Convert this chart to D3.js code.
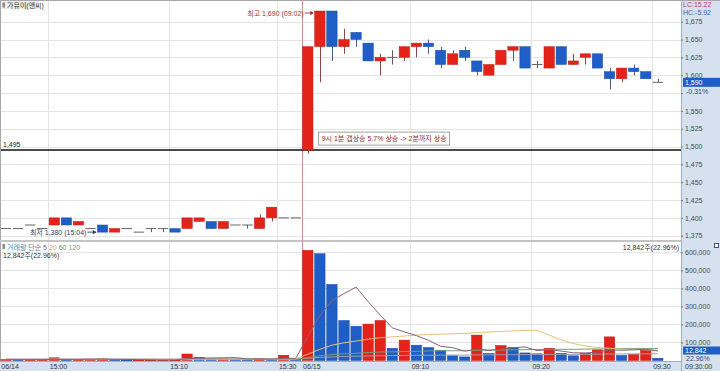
<!DOCTYPE html>
<html>
<head>
<meta charset="utf-8">
<script src="https://cdn.jsdelivr.net/npm/d3@7"></script>
<style>
  html, body { margin: 0; padding: 0; background: #fff; }
  svg text { font-family: "Liberation Sans", "Noto Sans CJK KR", sans-serif; font-size: 7px; }
</style>
</head>
<body>
<svg id="chart" width="720" height="371"></svg>
<script>
// one-minute bars, 06/14 afternoon then 06/15 morning
const times = [
  '14:56', '14:57', '14:58', '14:59', '15:00', '15:01', '15:02', '15:03', '15:04', '15:05',
  '15:06', '15:07', '15:08', '15:09', '15:10', '15:11', '15:12', '15:13', '15:14', '15:15',
  '15:16', '15:17', '15:18', '15:30', '15:40',
  '09:01', '09:02', '09:03', '09:04', '09:05', '09:06', '09:07', '09:08', '09:09', '09:10',
  '09:11', '09:12', '09:13', '09:14', '09:15', '09:16', '09:17', '09:18', '09:19', '09:20',
  '09:21', '09:22', '09:23', '09:24', '09:25', '09:26', '09:27', '09:28', '09:29', '09:30'
];
const dayLabels = ['06/14', '06/15'];
const dayLengths = [25, 30];

const open = [
  1385, 1385, 1390, 1385, 1390, 1400, 1390, 1385, 1390, 1380,
  1385, 1380, 1385, 1385, 1385, 1385, 1395, 1395, 1385, 1390,
  1390, 1385, 1400, 1400, 1400,
  1495, 1640, 1690, 1640, 1660, 1645, 1620, 1625, 1625, 1640,
  1645, 1635, 1615, 1635, 1620, 1600, 1615, 1635, 1640, 1615,
  1610, 1640, 1615, 1625, 1630, 1605, 1595, 1610, 1605, 1590
];
const high = [
  1385, 1385, 1390, 1385, 1400, 1400, 1395, 1385, 1390, 1385,
  1385, 1380, 1385, 1385, 1385, 1400, 1400, 1395, 1395, 1390,
  1390, 1405, 1415, 1400, 1400,
  1640, 1690, 1690, 1665, 1660, 1645, 1630, 1635, 1640, 1645,
  1650, 1640, 1635, 1640, 1620, 1615, 1635, 1640, 1640, 1620,
  1640, 1640, 1630, 1630, 1630, 1610, 1610, 1615, 1605, 1595
];
const low = [
  1385, 1385, 1390, 1385, 1390, 1390, 1390, 1385, 1380, 1380,
  1385, 1380, 1380, 1380, 1380, 1385, 1395, 1385, 1385, 1390,
  1385, 1385, 1395, 1400, 1400,
  1490, 1590, 1620, 1630, 1640, 1620, 1600, 1615, 1620, 1625,
  1630, 1610, 1615, 1620, 1600, 1600, 1615, 1620, 1610, 1610,
  1610, 1615, 1615, 1615, 1610, 1580, 1590, 1600, 1595, 1590
];
const close = [
  1385, 1385, 1390, 1385, 1400, 1390, 1395, 1385, 1380, 1385,
  1385, 1380, 1385, 1385, 1380, 1400, 1400, 1385, 1395, 1390,
  1390, 1400, 1415, 1400, 1400,
  1640, 1690, 1640, 1650, 1650, 1620, 1625, 1625, 1640, 1645,
  1640, 1615, 1630, 1625, 1605, 1615, 1635, 1640, 1610, 1615,
  1640, 1615, 1620, 1630, 1610, 1595, 1610, 1605, 1595, 1590
];
const volume = [
  5000, 4000, 4000, 4000, 15000, 4000, 4000, 8000, 9000, 4000,
  3000, 3000, 3000, 3000, 3000, 36000, 18000, 9000, 9000, 8000,
  4000, 12000, 5000, 29000, 8000,
  611000, 592000, 422000, 222000, 190000, 202000, 222000, 68000, 113000, 85000,
  72000, 57000, 26000, 20000, 141000, 39000, 83000, 72000, 42000, 37000,
  68000, 40000, 26000, 40000, 59000, 131000, 28000, 35000, 55930, 12842
];
// volume moving averages as drawn (단순 5 / 20 / 60 / 120)
const ma5 = [
  5000, 5000, 5000, 5000, 6000, 6000, 6000, 7000, 8000, 6000,
  6000, 5000, 4000, 3000, 3000, 10000, 13000, 14000, 15000, 16000,
  9000, 8000, 8000, 12000, 12000,
  133000, 249000, 332000, 371000, 407000, 326000, 252000, 181000, 159000, 138000,
  112000, 79000, 71000, 52000, 63000, 57000, 62000, 71000, 75000, 55000,
  60000, 52000, 43000, 42000, 47000, 59000, 57000, 59000, 62000, 53000
];
const ma20 = [
  7000, 7000, 7000, 7000, 7000, 7000, 7000, 7000, 7000, 7000,
  7000, 7000, 7000, 7000, 7000, 8000, 8000, 8000, 8000, 8000,
  8000, 8000, 8000, 9000, 9000,
  35000, 62000, 85000, 98000, 108000, 118000, 126000, 131000, 136000, 141000,
  144000, 146000, 148000, 150000, 155000, 158000, 161000, 164000, 167000, 168000,
  141000, 114000, 94000, 80000, 72000, 68000, 63000, 62000, 60000, 58000
];
const ma60 = [
  6000, 6000, 6000, 6000, 6000, 6000, 6000, 6000, 6000, 6000,
  6000, 6000, 6000, 6000, 6000, 6000, 7000, 7000, 7000, 7000,
  7000, 7000, 7000, 7000, 7000,
  16000, 26000, 33000, 37000, 40000, 44000, 47000, 48000, 50000, 51000,
  53000, 54000, 54000, 54000, 57000, 57000, 58000, 59000, 60000, 61000,
  62000, 62000, 62000, 63000, 64000, 66000, 66000, 67000, 67000, 67000
];
const ma120 = [
  8000, 8000, 8000, 8000, 8000, 8000, 8000, 8000, 8000, 8000,
  8000, 8000, 8000, 8000, 8000, 8000, 8000, 8000, 8000, 8000,
  8000, 8000, 8000, 8000, 8000,
  12000, 17000, 20000, 22000, 24000, 25000, 27000, 27000, 28000, 29000,
  29000, 30000, 30000, 30000, 31000, 31000, 32000, 32000, 33000, 33000,
  34000, 34000, 34000, 34000, 35000, 36000, 36000, 36000, 37000, 37000
];

const priceTicks = [1375, 1400, 1425, 1450, 1475, 1500, 1525, 1550, 1575, 1600, 1625, 1650, 1675];
const volumeTicks = [100000, 200000, 300000, 400000, 500000, 600000];
const timeTicks = ['15:00', '15:10', '15:30', '09:10', '09:20', '09:30'];
const refPrice = 1495;
const paneTitle = '가뮤이(앤씨)';
const noteText = '9시 1분 갭상승 5.7% 상승 -> 2분까지 상승';
const maNames = ['단순 5', '20', '60', '120'];

const RED = '#e3231a', BLUE = '#1e5ec6';
const fmt = d3.format(',');

const svg = d3.select('#chart');
const plotRight = 681;

const n = times.length;
const x = d3.scaleBand().domain(d3.range(n)).range([0, n * 12.07]).paddingInner(0.14).paddingOuter(0.07);
const bw = x.bandwidth();
const yP = d3.scaleLinear().domain([1375, 1675]).range([235.7, 21.7]);
const yV = d3.scaleLinear().domain([0, 600000]).range([360.5, 252.3]);
const last = n - 1;

// backgrounds
svg.append('rect').attr('width', 720).attr('height', 371).attr('fill', '#fff');
svg.append('rect').attr('x', plotRight).attr('y', 0).attr('width', 720 - plotRight).attr('height', 371).attr('fill', '#d5e1ee');
svg.append('rect').attr('x', 0).attr('y', 361).attr('width', 720).attr('height', 10).attr('fill', '#d5e1ee');

// day starts and time ticks as bar indices
const dayStarts = dayLengths.map((_, k) => d3.sum(dayLengths.slice(0, k)));
const timeIdx = timeTicks.map(t => times.indexOf(t));

// grid
const grid = svg.append('g').attr('stroke', '#e4e4e4').attr('stroke-width', 1);
grid.selectAll('.hp').data(priceTicks).enter().append('line')
  .attr('x1', 1).attr('x2', plotRight)
  .attr('y1', d => Math.round(yP(d)) + 0.5).attr('y2', d => Math.round(yP(d)) + 0.5);
grid.selectAll('.hv').data(volumeTicks).enter().append('line')
  .attr('x1', 1).attr('x2', plotRight)
  .attr('y1', d => Math.round(yV(d)) + 0.5).attr('y2', d => Math.round(yV(d)) + 0.5);
grid.selectAll('.vt').data(timeIdx).enter().append('line')
  .attr('x1', d => Math.round(x(d)) - 0.5).attr('x2', d => Math.round(x(d)) - 0.5)
  .attr('y1', 1).attr('y2', 361);

// frame and pane separator
svg.append('line').attr('x1', 0.5).attr('x2', 0.5).attr('y1', 0).attr('y2', 361).attr('stroke', '#a8a8a8');
svg.append('line').attr('x1', 0).attr('x2', 720).attr('y1', 0.5).attr('y2', 0.5).attr('stroke', '#a8a8a8');
svg.append('rect').attr('x', 0).attr('y', 240).attr('width', plotRight).attr('height', 2).attr('fill', '#c4c4c4');
svg.append('line').attr('x1', plotRight + 0.5).attr('x2', plotRight + 0.5).attr('y1', 0).attr('y2', 371).attr('stroke', '#9fb0c2');
svg.append('line').attr('x1', 0).attr('x2', plotRight).attr('y1', 361.5).attr('y2', 361.5).attr('stroke', '#9fb0c2');

// day divider
dayStarts.slice(1).forEach(i => {
  svg.append('line')
    .attr('x1', Math.round(x(i)) - 0.5).attr('x2', Math.round(x(i)) - 0.5)
    .attr('y1', 1).attr('y2', 361)
    .attr('stroke', '#c99494');
});

// reference price line
svg.append('line')
  .attr('x1', 1).attr('x2', plotRight)
  .attr('y1', yP(refPrice)).attr('y2', yP(refPrice))
  .attr('stroke', '#111').attr('stroke-width', 1.5);
svg.append('text').attr('x', 3).attr('y', yP(refPrice) - 3).attr('fill', '#222').text(fmt(refPrice));

// candles
const bars = times.map((t, i) => ({ i, t, o: open[i], h: high[i], l: low[i], c: close[i], v: volume[i] }));
const candleColor = d => d.c > d.o ? RED : d.c < d.o ? BLUE : '#666';
const wickColor = d => d.c > d.o ? '#8d4a44' : d.c < d.o ? '#4a5f8e' : '#5c5c5c';

const candles = svg.append('g');
candles.selectAll('.wick').data(bars).enter().append('line')
  .attr('x1', d => Math.round(x(d.i) + bw / 2) + 0.5)
  .attr('x2', d => Math.round(x(d.i) + bw / 2) + 0.5)
  .attr('y1', d => yP(d.h))
  .attr('y2', d => yP(d.l))
  .attr('stroke', wickColor);
candles.selectAll('.body').data(bars).enter().append('rect')
  .attr('x', d => x(d.i))
  .attr('y', d => d.o === d.c ? yP(d.c) - 0.5 : yP(Math.max(d.o, d.c)))
  .attr('width', bw)
  .attr('height', d => d.o === d.c ? 1 : Math.abs(yP(d.o) - yP(d.c)))
  .attr('fill', candleColor)
  .attr('stroke', d => d.o === d.c ? 'none' : d3.color(candleColor(d)).darker(0.5))
  .attr('stroke-width', 0.5);

// high / low markers
const arrowLabel = (i, yy, txt, color) => {
  const xe = x(i);
  svg.append('text').attr('x', xe - 11).attr('y', yy + 2.5)
    .attr('text-anchor', 'end').attr('fill', color).text(txt);
  svg.append('line').attr('x1', xe - 10).attr('x2', xe - 1.5).attr('y1', yy).attr('y2', yy)
    .attr('stroke', color).attr('stroke-width', 0.9);
  svg.append('path').attr('d', `M${xe - 1},${yy} l-3.5,-2.2 l0,4.4 z`).attr('fill', color);
};
const iHigh = d3.maxIndex(high);
const iLow = d3.minIndex(low);
arrowLabel(iHigh, yP(high[iHigh]) + 2, `최고 ${fmt(high[iHigh])} (${times[iHigh]})`, '#a83232');
arrowLabel(iLow, yP(low[iLow]), `최저 ${fmt(low[iLow])} (${times[iLow]})`, '#2c3a6e');

// comment box
const noteX = x(dayStarts[1] + 1) + 4;
const noteY = yP(refPrice) - 18;
const note = svg.append('g');
const noteRect = note.append('rect').attr('x', noteX).attr('y', noteY).attr('height', 13)
  .attr('fill', '#fff').attr('stroke', '#8a8a8a').attr('stroke-width', 0.8);
const noteTxt = note.append('text').attr('x', noteX + 3).attr('y', noteY + 9)
  .attr('fill', '#8f2a2a').text(noteText);
noteRect.attr('width', noteTxt.node().getComputedTextLength() + 6);

// pane title
svg.append('rect').attr('x', 1).attr('y', 1).attr('width', 38).attr('height', 8).attr('fill', '#ececec');
svg.append('rect').attr('x', 2.5).attr('y', 2.5).attr('width', 2.5).attr('height', 5).attr('fill', '#8a8a8a');
svg.append('text').attr('x', 7).attr('y', 7.5).attr('fill', '#333').text(paneTitle);

// volume bars, red when volume rose versus the previous bar
const volColor = d => d.i === 0 || d.v >= volume[d.i - 1] ? RED : BLUE;
svg.append('g').selectAll('rect').data(bars).enter().append('rect')
  .attr('x', d => x(d.i))
  .attr('y', d => yV(d.v))
  .attr('width', bw)
  .attr('height', d => Math.max(0.8, yV(0) - yV(d.v)))
  .attr('fill', volColor)
  .attr('stroke', d => d3.color(volColor(d)).darker(0.6))
  .attr('stroke-width', 0.5);

// volume averages
const maSeries = [
  { values: ma120, color: '#9c9cab' },
  { values: ma60, color: '#74a074' },
  { values: ma20, color: '#e3c27c' },
  { values: ma5, color: '#86607c' }
];
const line = d3.line().x((d, i) => x(i) + bw / 2).y(d => yV(d));
svg.append('g').selectAll('path').data(maSeries).enter().append('path')
  .attr('d', d => line(d.values))
  .attr('fill', 'none')
  .attr('stroke', d => d.color)
  .attr('stroke-width', 1);

// volume legend
const volPct = (volume[last] / volume[last - 1] * 100).toFixed(2);
svg.append('rect').attr('x', 2.5).attr('y', 244).attr('width', 2.5).attr('height', 5).attr('fill', '#8a8a8a');
const legend = svg.append('text').attr('x', 7).attr('y', 249.5);
legend.append('tspan').attr('fill', '#3a86b4').text('거래량 ');
const legendColors = ['#86607c', '#e0a830', '#5e9a5e', '#8f8fa0'];
maNames.forEach((m, k) => legend.append('tspan').attr('fill', legendColors[k]).text(m + '  '));
svg.append('text').attr('x', 3).attr('y', 258).attr('fill', '#333')
  .text(`${fmt(volume[last])}주(${volPct}%)`);
svg.append('text').attr('x', plotRight - 2).attr('y', 249.5).attr('text-anchor', 'end').attr('fill', '#333')
  .text(`${fmt(volume[last])}주(${volPct}%)`);
svg.append('rect').attr('x', 714.5).attr('y', 243.5).attr('width', 4).attr('height', 4)
  .attr('fill', '#fff').attr('stroke', '#3a5580');

// right axes
const lastClose = close[last];
const yc = yP(lastClose);
const styleAxis = g => {
  g.select('.domain').remove();
  g.selectAll('.tick line').attr('stroke', '#6a7a8a');
  g.selectAll('.tick text').attr('fill', '#4a4a4a').attr('font-size', 7);
};
svg.append('g').attr('transform', `translate(${plotRight},0)`)
  .call(d3.axisRight(yP).tickValues(priceTicks).tickFormat(fmt).tickSize(2).tickPadding(2))
  .call(styleAxis)
  .call(g => g.selectAll('.tick text').filter(d => yP(d) > yc + 4 && yP(d) < yc + 16).remove());
svg.append('g').attr('transform', `translate(${plotRight},0)`)
  .call(d3.axisRight(yV).tickValues(volumeTicks).tickFormat(fmt).tickSize(2).tickPadding(2))
  .call(styleAxis);

// change readouts
const lc = ((lastClose / low[iLow] - 1) * 100).toFixed(2);
const hc = ((lastClose / high[iHigh] - 1) * 100).toFixed(2);
const chg = ((lastClose / close[last - 1] - 1) * 100).toFixed(2);
svg.append('text').attr('x', plotRight + 2).attr('y', 7).attr('fill', '#c83a5a').text(`LC:${lc}`);
svg.append('text').attr('x', plotRight + 2).attr('y', 15.2).attr('fill', '#3a62a8').text(`HC:${hc}`);

svg.append('rect').attr('x', plotRight + 2).attr('y', yc - 4.5).attr('width', 37).attr('height', 9).attr('fill', BLUE);
svg.append('text').attr('x', plotRight + 4).attr('y', yc + 3).attr('fill', '#fff').text(fmt(lastClose));
svg.append('text').attr('x', plotRight + 5).attr('y', yc + 11.5).attr('fill', '#2c4a8a').text(`${chg}%`);

const yvBox = Math.min(yV(volume[last]) - 4, 346.5);
svg.append('rect').attr('x', plotRight + 2).attr('y', yvBox).attr('width', 37).attr('height', 8).attr('fill', BLUE);
svg.append('text').attr('x', plotRight + 4).attr('y', yvBox + 6.5).attr('fill', '#fff').text(fmt(volume[last]));
svg.append('text').attr('x', plotRight + 5).attr('y', yvBox + 14.5).attr('fill', '#2c4a8a').text(`${volPct}%`);

// time axis
const tickIdx = dayStarts.concat(timeIdx).sort((a, b) => a - b);
const tickName = i => {
  const k = dayStarts.indexOf(i);
  return k >= 0 ? dayLabels[k] : times[i];
};
const xAxis = svg.append('g').attr('transform', 'translate(0,361)')
  .call(d3.axisBottom(x).tickValues(tickIdx).tickFormat(tickName).tickSize(0).tickPadding(0));
xAxis.select('.domain').remove();
xAxis.selectAll('.tick text')
  .attr('text-anchor', 'start')
  .attr('fill', '#333')
  .attr('font-size', 7)
  .attr('dy', 0)
  .attr('y', 7.8)
  .attr('x', -bw / 2 + 0.5);
svg.append('text').attr('x', plotRight + 4).attr('y', 369).attr('fill', '#333').text(`${times[last]}:00`);
</script>
</body>
</html>
